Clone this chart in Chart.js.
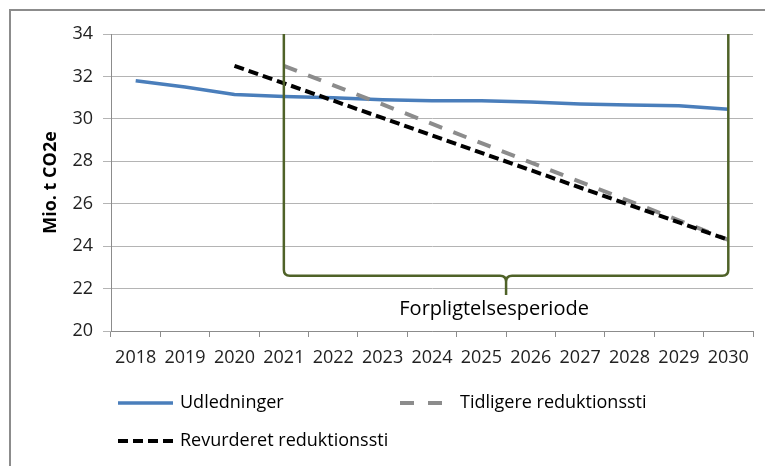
<!DOCTYPE html>
<html>
<head>
<meta charset="utf-8">
<script src="https://cdn.jsdelivr.net/npm/chart.js@4.4.1/dist/chart.umd.min.js"></script>
<style>
    body { margin: 0; background: #fff; }
    #wrap { width: 765px; height: 466px; }
</style>
</head>
<body>
<div id="wrap"><canvas id="emissionsChart" width="765" height="466"></canvas></div>
<script>
const years = ["2018", "2019", "2020", "2021", "2022", "2023", "2024", "2025", "2026", "2027", "2028", "2029", "2030"];
const udledninger = [31.8, 31.5, 31.15, 31.05, 31.0, 30.9, 30.85, 30.85, 30.8, 30.7, 30.65, 30.62, 30.45];
const tidligere = [null, null, null, 32.5, null, null, null, null, null, null, null, null, 24.3];
const revurderet = [null, null, 32.5, null, null, null, null, null, null, null, null, null, 24.3];
const yTicks = [20, 22, 24, 26, 28, 30, 32, 34];

const periodStart = "2021";
const periodEnd = "2030";
const periodLabel = "Forpligtelsesperiode";

const FONT = "'Open Sans', sans-serif";

// Green curly bracket marking the commitment period
const bracketPlugin = {
    id: "bracket",
    afterDatasetsDraw(chart) {
        const { ctx, scales: { x, y } } = chart;
        const left = x.getPixelForValue(years.indexOf(periodStart));
        const right = x.getPixelForValue(years.indexOf(periodEnd));
        const mid = (left + right) / 2;
        const top = y.getPixelForValue(34);
        const base = y.getPixelForValue(22.6);
        const tip = y.getPixelForValue(21.7);
        const r = 6;

        ctx.save();
        ctx.strokeStyle = "#4f6228";
        ctx.lineWidth = 2.5;
        ctx.beginPath();
        ctx.moveTo(left, top);
        ctx.lineTo(left, base - r);
        ctx.quadraticCurveTo(left, base, left + r, base);
        ctx.lineTo(mid - r, base);
        ctx.quadraticCurveTo(mid, base, mid, base + r);
        ctx.lineTo(mid, tip);
        ctx.moveTo(mid, base + r);
        ctx.quadraticCurveTo(mid, base, mid + r, base);
        ctx.lineTo(right - r, base);
        ctx.quadraticCurveTo(right, base, right, base - r);
        ctx.lineTo(right, top);
        ctx.stroke();

        ctx.fillStyle = "#000";
        ctx.font = "20px " + FONT;
        ctx.textAlign = "center";
        ctx.textBaseline = "middle";
        ctx.fillText(periodLabel, mid - 12, tip + 14);
        ctx.restore();
    }
};

// Frame and legend in the Excel layout
const framePlugin = {
    id: "frame",
    beforeDraw(chart) {
        const ctx = chart.ctx;
        ctx.save();
        ctx.strokeStyle = "#8c8c8c";
        ctx.lineWidth = 2;
        ctx.beginPath();
        ctx.moveTo(10, chart.height);
        ctx.lineTo(10, 10);
        ctx.lineTo(chart.width, 10);
        ctx.stroke();
        ctx.restore();
    },
    afterDraw(chart) {
        const ctx = chart.ctx;
        const items = [
            { text: "Udledninger", color: "#4a7ebb", dash: [], width: 3.5, x1: 118, x2: 173, y: 403 },
            { text: "Tidligere reduktionssti", color: "#8c8c8c", dash: [14, 14], width: 4, x1: 400, x2: 443, y: 403, tx: 460 },
            { text: "Revurderet reduktionssti", color: "#000", dash: [10, 5], width: 4, x1: 118, x2: 173, y: 441 }
        ];
        ctx.save();
        items.forEach(item => {
            ctx.strokeStyle = item.color;
            ctx.lineWidth = item.width;
            ctx.setLineDash(item.dash);
            ctx.beginPath();
            ctx.moveTo(item.x1, item.y);
            ctx.lineTo(item.x2, item.y);
            ctx.stroke();
            ctx.setLineDash([]);
            ctx.fillStyle = "#000";
            ctx.font = "18px " + FONT;
            ctx.textAlign = "left";
            ctx.textBaseline = "middle";
            ctx.fillText(item.text, item.tx || 180, item.y);
        });
        ctx.restore();
    }
};

const ctx = document.getElementById("emissionsChart").getContext("2d");

new Chart(ctx, {
    type: "line",
    data: {
        labels: years,
        datasets: [
            {
                label: "Udledninger",
                data: udledninger,
                borderColor: "#4a7ebb",
                borderWidth: 3.5,
                pointRadius: 0,
                order: 3
            },
            {
                label: "Tidligere reduktionssti",
                data: tidligere,
                borderColor: "#8c8c8c",
                borderWidth: 4,
                borderDash: [14, 12],
                pointRadius: 0,
                spanGaps: true,
                order: 2
            },
            {
                label: "Revurderet reduktionssti",
                data: revurderet,
                borderColor: "#000",
                borderWidth: 4,
                borderDash: [10, 5],
                pointRadius: 0,
                spanGaps: true,
                order: 1
            }
        ]
    },
    options: {
        responsive: false,
        animation: false,
        layout: { padding: { top: 34, right: 12, bottom: 0, left: 0 } },
        plugins: {
            legend: { display: false },
            tooltip: { enabled: false }
        },
        scales: {
            x: {
                offset: true,
                grid: {
                    offset: true,
                    drawOnChartArea: false,
                    tickLength: 6,
                    color: "#8c8c8c"
                },
                border: { color: "#8c8c8c" },
                ticks: {
                    color: "#222",
                    font: { family: FONT, size: 18 },
                    padding: 10,
                    maxRotation: 0,
                    autoSkip: false
                },
                afterFit(scale) { scale.height = 135; }
            },
            y: {
                min: 20,
                max: 34,
                afterBuildTicks(scale) { scale.ticks = yTicks.map(v => ({ value: v })); },
                grid: { color: "#b4b4b4", tickLength: 8 },
                border: { color: "#8c8c8c" },
                ticks: {
                    color: "#222",
                    font: { family: FONT, size: 18 },
                    padding: 10
                },
                title: {
                    display: true,
                    text: "Mio. t CO2e",
                    color: "#000",
                    font: { family: FONT, size: 18, weight: "bold" },
                    padding: { top: 40, bottom: 0 }
                },
                afterFit(scale) { scale.width = 111; }
            }
        }
    },
    plugins: [framePlugin, bracketPlugin]
});
</script>
</body>
</html>
